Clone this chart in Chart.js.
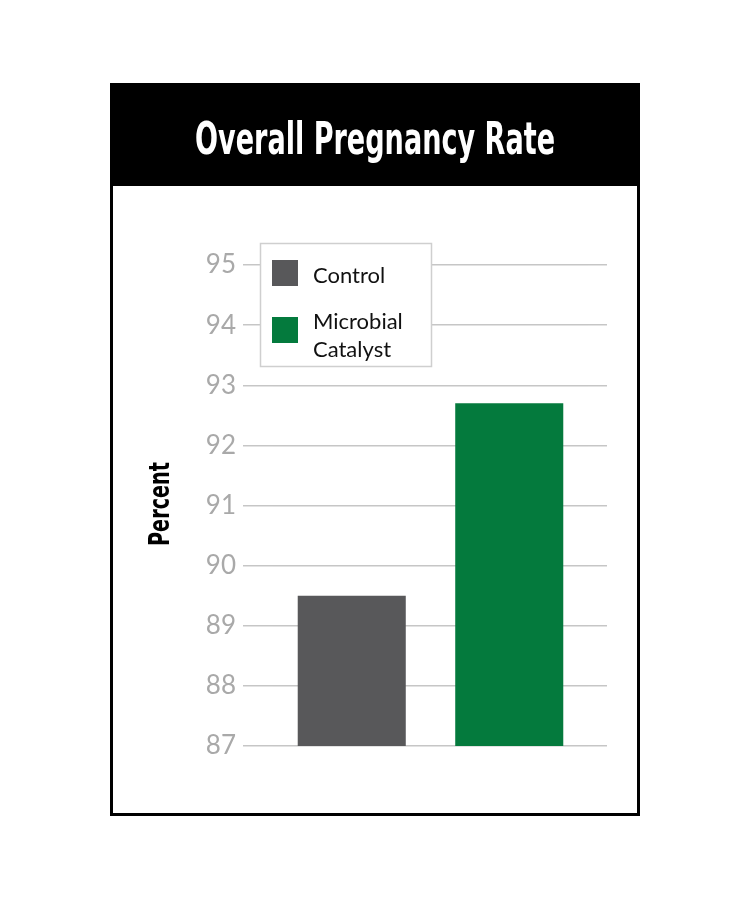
<!DOCTYPE html>
<html>
<head>
<meta charset="utf-8">
<script src="https://cdn.jsdelivr.net/npm/chart.js@4"></script>
<style>
  html, body { margin: 0; padding: 0; background: #fff; }
  #wrap { position: relative; width: 750px; height: 900px; }
</style>
</head>
<body>
<div id="wrap"><canvas id="chart" width="750" height="900"></canvas></div>
<script>
const categories = ['Control', 'Microbial Catalyst'];
const legendLines = [['Control'], ['Microbial', 'Catalyst']];
const rates = [89.5, 92.7];
const barColors = ['#58585a', '#047a3d'];
const yMin = 87;
const yMax = 95;
const titleText = 'Overall Pregnancy Rate';
const axisTitle = 'Percent';

const condensed = '"Liberation Sans Narrow", "DejaVu Sans Condensed", sans-serif';
const bodyFont = 'Lato, "Open Sans", sans-serif';

// frame, black header and rotated axis title
const framePlugin = {
  id: 'frame',
  beforeDraw(chart) {
    const ctx = chart.ctx;
    ctx.save();
    ctx.fillStyle = '#fff';
    ctx.fillRect(0, 0, chart.width, chart.height);
    ctx.fillStyle = '#000';
    ctx.fillRect(111, 84, 528, 102);
    ctx.strokeStyle = '#000';
    ctx.lineWidth = 3;
    ctx.strokeRect(111.5, 84.5, 527, 730);

    ctx.fillStyle = '#fff';
    ctx.font = 'bold 45px ' + condensed;
    ctx.textAlign = 'center';
    ctx.textBaseline = 'middle';
    let w = ctx.measureText(titleText).width;
    ctx.translate(375, 142);
    ctx.scale(360 / w, 1);
    ctx.fillText(titleText, 0, 0);
    ctx.restore();

    ctx.save();
    ctx.fillStyle = '#000';
    ctx.font = 'bold 29px ' + condensed;
    ctx.textAlign = 'center';
    ctx.textBaseline = 'middle';
    w = ctx.measureText(axisTitle).width;
    ctx.translate(161, 504);
    ctx.rotate(-Math.PI / 2);
    ctx.scale(84 / w, 1);
    ctx.fillText(axisTitle, 0, 0);
    ctx.restore();
  }
};

// boxed legend sitting over the gridlines
const legendBox = {
  id: 'legendBox',
  afterDatasetsDraw(chart) {
    const ctx = chart.ctx;
    ctx.save();
    ctx.fillStyle = '#fff';
    ctx.fillRect(260, 243, 172, 124);
    ctx.strokeStyle = '#cfcfcf';
    ctx.lineWidth = 1.5;
    ctx.strokeRect(260.5, 243.5, 171, 123);
    ctx.font = '22px ' + bodyFont;
    ctx.textBaseline = 'middle';
    const rows = [260, 317];
    categories.forEach((c, i) => {
      ctx.fillStyle = barColors[i];
      ctx.fillRect(272, rows[i], 26, 26);
      ctx.fillStyle = '#111';
      legendLines[i].forEach((line, j) => {
        ctx.fillText(line, 313, rows[i] + 16 + j * 28 - (i ? 11 : 0));
      });
    });
    ctx.restore();
  }
};

new Chart(document.getElementById('chart'), {
  type: 'bar',
  data: {
    labels: categories,
    datasets: [{
      data: rates,
      backgroundColor: barColors,
      categoryPercentage: 1,
      barPercentage: 0.686
    }]
  },
  options: {
    responsive: false,
    animation: false,
    layout: { padding: { top: 265, bottom: 154, left: 0, right: 0 } },
    plugins: { legend: { display: false }, tooltip: { enabled: false } },
    scales: {
      x: { display: false },
      y: {
        position: 'left',
        min: yMin,
        max: yMax,
        afterFit: s => { s.width = 273; },
        border: { display: false },
        grid: { color: '#c6c6c6', lineWidth: 1.5, tickLength: 30 },
        ticks: {
          stepSize: 1,
          padding: 7,
          color: '#a9a9a9',
          font: { family: bodyFont, size: 26 }
        }
      },
      yRight: {
        position: 'right',
        min: yMin,
        max: yMax,
        afterFit: s => { s.width = 162; },
        border: { display: false },
        grid: { color: '#c6c6c6', lineWidth: 1.5, tickLength: 19, drawOnChartArea: false },
        ticks: { stepSize: 1, display: false }
      }
    }
  },
  plugins: [framePlugin, legendBox]
});
</script>
</body>
</html>
